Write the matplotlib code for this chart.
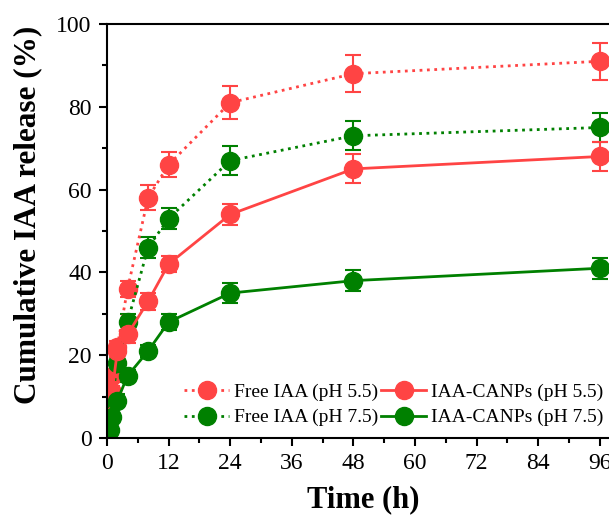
import numpy as np
import matplotlib
matplotlib.use('Agg')
import matplotlib.pyplot as plt
from matplotlib.ticker import MultipleLocator

plt.rcParams['font.family'] = ['Liberation Serif', 'DejaVu Serif']

# sampling times (h)
time_h = [0.5, 1, 2, 4, 8, 12, 24, 48, 96]

# cumulative release (%) and error bars
free_55 = [8, 15, 22, 36, 58, 66, 81, 88, 91]
free_55_err = [1.5, 1.5, 1.5, 2, 3, 3, 4, 4.5, 4.5]
free_75 = [5, 9, 18, 28, 46, 53, 67, 73, 75]
free_75_err = [1.5, 1.5, 1.5, 2, 2.5, 2.5, 3.5, 3.5, 3.5]
canp_55 = [5, 11, 21, 25, 33, 42, 54, 65, 68]
canp_55_err = [1.5, 1.5, 1.5, 2, 2, 2, 2.5, 3.5, 3.5]
canp_75 = [2, 5, 9, 15, 21, 28, 35, 38, 41]
canp_75_err = [1, 1, 1.5, 1.5, 1.5, 2, 2.5, 2.5, 2.5]

red = '#ff4444'
green = '#008000'

fig = plt.figure(figsize=(6.09, 5.22), dpi=100)
ax = fig.add_axes([0.1757, 0.161, 0.843, 0.793])

kw = dict(marker='o', markersize=13, lw=2, capsize=6, elinewidth=1.5, capthick=1.5)
h1 = ax.errorbar(time_h, free_55, yerr=free_55_err, color=red, ls=':', **kw)
h2 = ax.errorbar(time_h, free_75, yerr=free_75_err, color=green, ls=':', **kw)
h3 = ax.errorbar(time_h, canp_55, yerr=canp_55_err, color=red, ls='-', **kw)
h4 = ax.errorbar(time_h, canp_75, yerr=canp_75_err, color=green, ls='-', **kw)

ax.set_xlim(0, 100)
ax.set_ylim(0, 100)
ax.xaxis.set_major_locator(MultipleLocator(12))
ax.xaxis.set_minor_locator(MultipleLocator(6))
ax.yaxis.set_major_locator(MultipleLocator(20))
ax.yaxis.set_minor_locator(MultipleLocator(10))
ax.tick_params(which='major', direction='out', length=6, width=1.5, labelsize=17, pad=5)
ax.tick_params(which='minor', direction='out', length=3.5, width=1.5)
for s in ax.spines.values():
    s.set_linewidth(1.5)

ax.set_xlabel('Time (h)', fontsize=22, fontweight='bold', labelpad=8)
ax.set_ylabel('Cumulative IAA release (%)', fontsize=22.5, fontweight='bold', labelpad=10)
ax.yaxis.label.set_y(0.54)

leg = ax.legend([h1[0], h2[0], h3[0], h4[0]],
                ['Free IAA (pH 5.5)', 'Free IAA (pH 7.5)',
                 'IAA-CANPs (pH 5.5)', 'IAA-CANPs (pH 7.5)'],
                ncol=2, frameon=False, fontsize=14, loc='lower right',
                bbox_to_anchor=(0.993, -0.005), handlelength=2.3, columnspacing=0.15,
                handletextpad=0.25, labelspacing=0.38, borderaxespad=0.3)

fig.savefig('out.png', dpi=100)
